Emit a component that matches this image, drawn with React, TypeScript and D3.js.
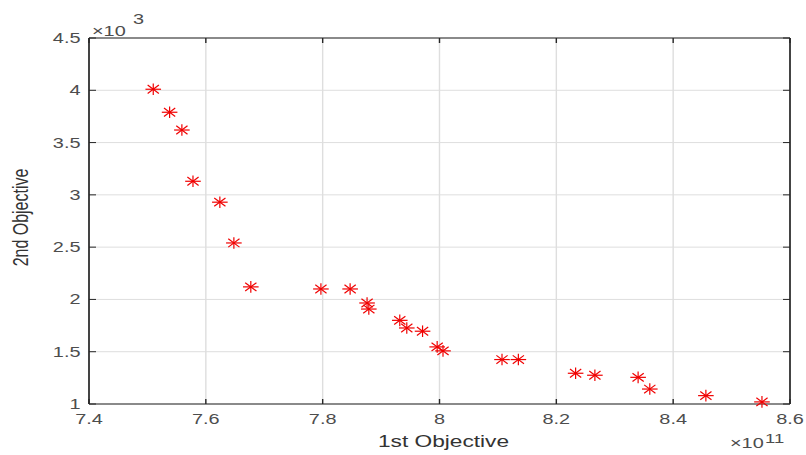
import React from 'react';
import * as d3 from 'd3';

// Pareto front values (1st objective x 1e11, 2nd objective x 1e3)
const objective1 = [
  7.510, 7.538, 7.559, 7.578, 7.624, 7.648, 7.677, 7.797, 7.847, 7.876, 7.879, 7.932,
  7.944, 7.971, 7.996, 8.006, 8.107, 8.135, 8.233, 8.266, 8.340, 8.360, 8.456, 8.552,
];
const objective2 = [
  4.01, 3.79, 3.62, 3.13, 2.93, 2.54, 2.12, 2.10, 2.10, 1.966, 1.908, 1.80,
  1.727, 1.696, 1.546, 1.508, 1.425, 1.425, 1.294, 1.275, 1.255, 1.143, 1.080, 1.020,
];
const xTicks = [7.4, 7.6, 7.8, 8.0, 8.2, 8.4, 8.6];
const yTicks = [1, 1.5, 2, 2.5, 3, 3.5, 4, 4.5];

const W = 806;
const H = 455;
const margin = { top: 38, right: 16, bottom: 51, left: 89 };

const axisColor = '#262626';
const labelColor = '#4d4d4d';
const font = 'Liberation Sans, Arial, sans-serif';
// the picture is stretched horizontally, text included
const sx = 1.42;

const Txt = ({ x, y, anchor = 'start', size = 14, fill = labelColor, children }: any) => (
  <text
    transform={`translate(${x},${y}) scale(${sx},1)`}
    textAnchor={anchor}
    fontFamily={font}
    fontSize={size}
    fill={fill}
  >
    {children}
  </text>
);

const App = () => {
  const iw = W - margin.left - margin.right;
  const ih = H - margin.top - margin.bottom;

  const x = d3.scaleLinear().domain([7.4, 8.6]).range([0, iw]);
  const y = d3.scaleLinear().domain([1, 4.5]).range([ih, 0]);
  const fmt = d3.format('~g');

  const points = objective1.map((v, i) => ({ x: v, y: objective2[i] }));
  const rx = 7.8;
  const ry = 5.8;
  const k = 0.72;

  return (
    <svg width={W} height={H} style={{ position: 'absolute', left: 0, top: 0, background: '#fff' }}>
      <g transform={`translate(${margin.left},${margin.top})`}>
        {/* grid */}
        {xTicks.map((t) => (
          <line key={'gx' + t} x1={x(t)} x2={x(t)} y1={0} y2={ih} stroke="#dedede" strokeWidth={1.4} />
        ))}
        {yTicks.map((t) => (
          <line key={'gy' + t} x1={0} x2={iw} y1={y(t)} y2={y(t)} stroke="#dedede" strokeWidth={1} />
        ))}

        {/* ticks (inward, all sides) */}
        {xTicks.map((t) => (
          <g key={'tx' + t}>
            <line x1={x(t)} x2={x(t)} y1={ih} y2={ih - 5} stroke={axisColor} strokeWidth={1.4} />
            <line x1={x(t)} x2={x(t)} y1={0} y2={5} stroke={axisColor} strokeWidth={1.4} />
            <Txt x={x(t)} y={ih + 19.5} anchor="middle">{fmt(t)}</Txt>
          </g>
        ))}
        {yTicks.map((t) => (
          <g key={'ty' + t}>
            <line x1={0} x2={7} y1={y(t)} y2={y(t)} stroke={axisColor} />
            <line x1={iw} x2={iw - 7} y1={y(t)} y2={y(t)} stroke={axisColor} />
            <Txt x={-8.5} y={y(t) + 5} anchor="end">{fmt(t)}</Txt>
          </g>
        ))}

        {/* box */}
        <line x1={0} x2={iw} y1={0} y2={0} stroke={axisColor} strokeWidth={1.1} />
        <line x1={0} x2={iw} y1={ih} y2={ih} stroke={axisColor} strokeWidth={1.1} />
        <line x1={0} x2={0} y1={0} y2={ih} stroke={axisColor} strokeWidth={1.7} />
        <line x1={iw} x2={iw} y1={0} y2={ih} stroke={axisColor} strokeWidth={1.7} />

        {/* markers */}
        {points.map((p, i) => {
          const cx = x(p.x);
          const cy = y(p.y);
          return (
            <g key={i} stroke="#f00000" strokeWidth={1.2}>
              <line x1={cx - rx} x2={cx + rx} y1={cy} y2={cy} />
              <line x1={cx} x2={cx} y1={cy - ry} y2={cy + ry} />
              <line x1={cx - rx * k} x2={cx + rx * k} y1={cy - ry * k} y2={cy + ry * k} />
              <line x1={cx - rx * k} x2={cx + rx * k} y1={cy + ry * k} y2={cy - ry * k} />
            </g>
          );
        })}

        {/* exponent labels */}
        <Txt x={3} y={-2}>×10</Txt>
        <Txt x={44} y={-14}>3</Txt>
        <Txt x={iw - 60} y={ih + 44}>×10</Txt>
        <Txt x={iw - 25} y={ih + 39} size={13}>11</Txt>

        {/* axis titles */}
        <Txt x={iw / 2 + 4} y={ih + 43} anchor="middle" size={16} fill="#333">
          1st Objective
        </Txt>
        <text
          transform={`translate(${28 - margin.left},${217.5 - margin.top}) scale(${sx},1) rotate(-90)`}
          textAnchor="middle"
          fontFamily={font}
          fontSize={16}
          fill="#333"
        >
          2nd Objective
        </text>
      </g>
    </svg>
  );
};

export default App;
